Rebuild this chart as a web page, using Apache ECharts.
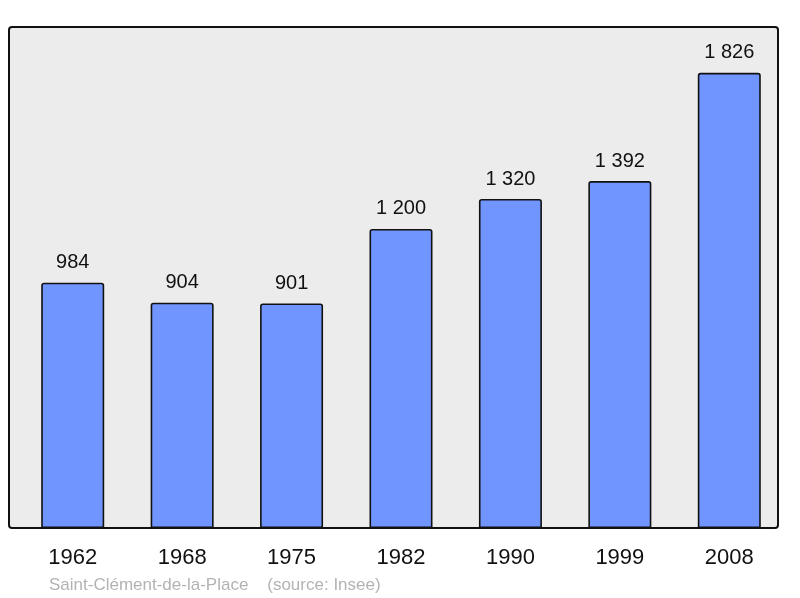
<!DOCTYPE html>
<html><head><meta charset="utf-8">
<script src="https://cdn.jsdelivr.net/npm/echarts@6/dist/echarts.min.js"></script>
<style>html,body{margin:0;padding:0;background:#fff}#c{width:800px;height:598px}</style>
</head><body><div id="c"></div>
<script>
const years = ['1962','1968','1975','1982','1990','1999','2008'];
const population = [984, 904, 901, 1200, 1320, 1392, 1826];
const sourceText = 'Saint-Clément-de-la-Place    (source: Insee)';

const chart = echarts.init(document.getElementById('c'), null, {renderer:'canvas'});
chart.setOption({
  animation:false,
  backgroundColor:'#ffffff',
  graphic:[
    {type:'rect', z:-10, shape:{x:9,y:27,width:769,height:501,r:3}, style:{fill:'#ececec',stroke:'#111',lineWidth:2}},
    {type:'text', left:49, top:577, style:{text:sourceText, fill:'#b3b3b3', font:'17px "Liberation Sans", Arial, sans-serif'}}
  ],
  grid:{left:18, right:16, top:27, bottom:70, containLabel:false},
  xAxis:{type:'category', data:years,
    axisLine:{show:false}, axisTick:{show:false},
    axisLabel:{color:'#111', fontSize:22, fontFamily:'"Liberation Sans", Arial, sans-serif', margin:19}},
  yAxis:{type:'value', min:0, max:2010, show:false, splitLine:{show:false}},
  series:[{type:'bar', data:population, barWidth:63,
    itemStyle:{color:'#7095ff', borderColor:'#111', borderWidth:1.6, borderRadius:[2,2,0,0]},
    label:{show:true, position:'top', distance:10, color:'#111', fontSize:20,
      fontFamily:'"Liberation Sans", Arial, sans-serif',
      formatter:p=>p.value>=1000? String(p.value).replace(/\B(?=(\d{3})+(?!\d))/g,' '):String(p.value)}
  }]
});
</script></body></html>
